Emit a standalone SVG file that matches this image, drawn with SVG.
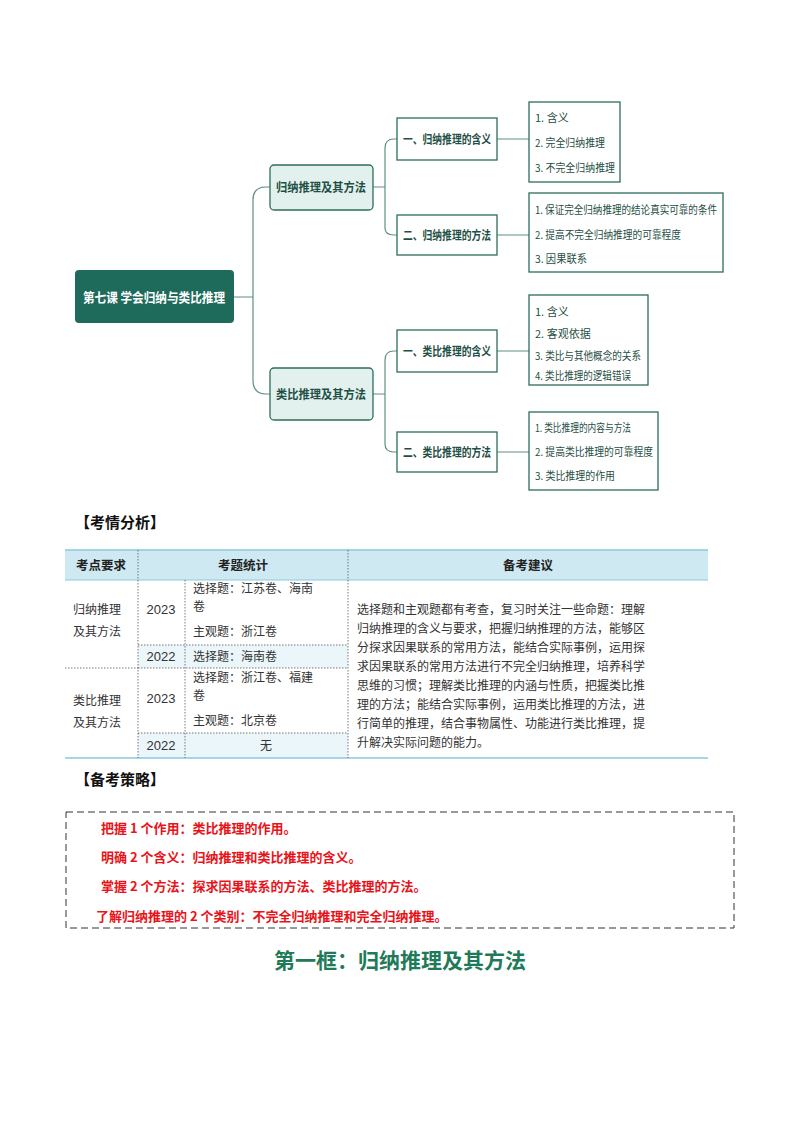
<svg xmlns="http://www.w3.org/2000/svg" width="800" height="1132" viewBox="0 0 800 1132">
<style>
text{font-family:"Noto Sans CJK SC","Liberation Sans",sans-serif;}
.b{fill:#fff;stroke:#2d6e5e;stroke-width:1.3}
.l1{fill:#e3f1ee;stroke:#2d6e5e;stroke-width:1.3}
.t{font-size:12px;fill:#1f4f45;font-weight:bold}
.s{font-size:11px;fill:#1f4f45}
.c{fill:none;stroke:#5f8f84;stroke-width:1.2}
.g{stroke:#555;stroke-width:0.8;stroke-dasharray:1.5 1.5}
.tx{font-family:"Noto Sans CJK SC",serif;font-size:12px;fill:#333}
.n{font-family:"Liberation Sans",sans-serif;font-size:13px;fill:#333}
.r{font-size:13px;fill:#e8141a;font-weight:bold}
</style>
<rect width="800" height="1132" fill="#fff"/>
<g id="connectors">
<path class="c" d="M234,297H253 M253,200V380 M253,200Q253,187 266,187H270 M253,380Q253,394 266,394H270"/>
<path class="c" d="M373,187H385 M385,148V228 M385,148Q385,139 394,139H397 M385,228Q385,235 394,235H397"/>
<path class="c" d="M373,394H385 M385,360V444 M385,360Q385,351 394,351H397 M385,444Q385,452 394,452H397"/>
<path class="c" d="M497,139H529 M497,235H529 M497,351H529 M497,452H529"/>
</g>
<g id="root"><rect x="75" y="270" width="159" height="53" rx="4" fill="#1e6b5c"/><text x="154" y="302" font-size="13" font-weight="bold" fill="#fff" text-anchor="middle" textLength="142" lengthAdjust="spacingAndGlyphs">第七课  学会归纳与类比推理</text></g>
<g id="n1"><rect class="l1" x="270" y="165" width="103" height="45" rx="4"/><text class="t" x="321" y="192" text-anchor="middle" textLength="90" lengthAdjust="spacingAndGlyphs">归纳推理及其方法</text></g>
<g id="n11"><rect class="b" x="397" y="118" width="100" height="42"/><text class="t" x="447" y="144" text-anchor="middle" textLength="88" lengthAdjust="spacingAndGlyphs">一、归纳推理的含义</text></g>
<g id="n12"><rect class="b" x="397" y="215" width="100" height="40"/><text class="t" x="447" y="240" text-anchor="middle" textLength="88" lengthAdjust="spacingAndGlyphs">二、归纳推理的方法</text></g>
<g id="n111"><rect class="b" x="529" y="102" width="91" height="80"/><text class="s" x="535" y="122">1. 含义</text><text class="s" x="535" y="147" textLength="70" lengthAdjust="spacingAndGlyphs">2. 完全归纳推理</text><text class="s" x="535" y="172" textLength="80" lengthAdjust="spacingAndGlyphs">3. 不完全归纳推理</text></g>
<g id="n121"><rect class="b" x="529" y="193" width="194" height="79"/><text class="s" x="535" y="214" textLength="182" lengthAdjust="spacingAndGlyphs">1. 保证完全归纳推理的结论真实可靠的条件</text><text class="s" x="535" y="239" textLength="146" lengthAdjust="spacingAndGlyphs">2. 提高不完全归纳推理的可靠程度</text><text class="s" x="535" y="263" textLength="52" lengthAdjust="spacingAndGlyphs">3. 因果联系</text></g>
<g id="n2"><rect class="l1" x="270" y="368" width="103" height="52" rx="4"/><text class="t" x="321" y="399" text-anchor="middle" textLength="90" lengthAdjust="spacingAndGlyphs">类比推理及其方法</text></g>
<g id="n21"><rect class="b" x="397" y="330" width="100" height="42"/><text class="t" x="447" y="356" text-anchor="middle" textLength="88" lengthAdjust="spacingAndGlyphs">一、类比推理的含义</text></g>
<g id="n22"><rect class="b" x="397" y="432" width="100" height="40"/><text class="t" x="447" y="457" text-anchor="middle" textLength="88" lengthAdjust="spacingAndGlyphs">二、类比推理的方法</text></g>
<g id="n211"><rect class="b" x="529" y="295" width="119" height="90"/><text class="s" x="535" y="316">1. 含义</text><text class="s" x="535" y="338">2. 客观依据</text><text class="s" x="535" y="360" textLength="106" lengthAdjust="spacingAndGlyphs">3. 类比与其他概念的关系</text><text class="s" x="535" y="382" dy="-2" textLength="96" lengthAdjust="spacingAndGlyphs">4. 类比推理的逻辑错误</text></g>
<g id="n221"><rect class="b" x="529" y="412" width="129" height="78"/><text class="s" x="535" y="432" textLength="96" lengthAdjust="spacingAndGlyphs">1. 类比推理的内容与方法</text><text class="s" x="535" y="456" textLength="118" lengthAdjust="spacingAndGlyphs">2. 提高类比推理的可靠程度</text><text class="s" x="535" y="480" textLength="80" lengthAdjust="spacingAndGlyphs">3. 类比推理的作用</text></g>
<text x="75" y="528" font-size="15" font-weight="bold" fill="#111">【考情分析】</text>
<g id="table">
<rect x="65" y="550" width="643" height="30" fill="#cfe9f2"/>
<rect x="138" y="645" width="210" height="23" fill="#eaf6fa"/>
<rect x="138" y="733" width="210" height="25" fill="#eaf6fa"/>
<line x1="65" y1="550" x2="708" y2="550" stroke="#8cc8dd" stroke-width="1.5"/>
<line x1="65" y1="758" x2="708" y2="758" stroke="#8cc8dd" stroke-width="1.5"/>
<line x1="65" y1="580" x2="708" y2="580" stroke="#8cc8dd" stroke-width="1"/>
<line class="g" x1="138" y1="550" x2="138" y2="758"/>
<line class="g" x1="185" y1="580" x2="185" y2="758"/>
<line class="g" x1="348" y1="550" x2="348" y2="758"/>
<line class="g" x1="138" y1="645" x2="348" y2="645"/>
<line class="g" x1="138" y1="668" x2="348" y2="668"/>
<line class="g" x1="65" y1="668" x2="138" y2="668"/>
<line class="g" x1="138" y1="733" x2="348" y2="733"/>
<g font-family="Noto Sans CJK SC,serif" font-weight="bold" font-size="12.5" fill="#222" text-anchor="middle"><text x="101" y="570">考点要求</text><text x="243" y="570">考题统计</text><text x="528" y="570">备考建议</text></g>
<text class="tx" x="73" y="614">归纳推理</text><text class="tx" x="73" y="636">及其方法</text>
<text class="tx" x="73" y="705">类比推理</text><text class="tx" x="73" y="727">及其方法</text>
<text class="n" x="161" y="614" text-anchor="middle">2023</text><text class="n" x="161" y="661" text-anchor="middle">2022</text>
<text class="n" x="161" y="703" text-anchor="middle">2023</text><text class="n" x="161" y="750" text-anchor="middle">2022</text>
<text class="tx" x="193" y="593">选择题：江苏卷、海南</text><text class="tx" x="193" y="611">卷</text><text class="tx" x="193" y="636">主观题：浙江卷</text>
<text class="tx" x="193" y="661">选择题：海南卷</text>
<text class="tx" x="193" y="682">选择题：浙江卷、福建</text><text class="tx" x="193" y="700">卷</text><text class="tx" x="193" y="725">主观题：北京卷</text>
<text class="tx" x="266" y="750" text-anchor="middle">无</text>
<g class="tx"><text x="357" y="614">选择题和主观题都有考查，复习时关注一些命题：理解</text><text x="357" y="633">归纳推理的含义与要求，把握归纳推理的方法，能够区</text><text x="357" y="652">分探求因果联系的常用方法，能结合实际事例，运用探</text><text x="357" y="671">求因果联系的常用方法进行不完全归纳推理，培养科学</text><text x="357" y="690">思维的习惯；理解类比推理的内涵与性质，把握类比推</text><text x="357" y="709">理的方法；能结合实际事例，运用类比推理的方法，进</text><text x="357" y="728">行简单的推理，结合事物属性、功能进行类比推理，提</text><text x="357" y="747">升解决实际问题的能力。</text></g>
</g>
<text x="75" y="785" font-size="15" font-weight="bold" fill="#111">【备考策略】</text>
<g id="strategy">
<rect x="66" y="812" width="668" height="116" fill="none" stroke="#333" stroke-width="1" stroke-dasharray="7 4"/>
<text class="r" x="101" y="833">把握 1 个作用：类比推理的作用。</text>
<text class="r" x="101" y="862">明确 2 个含义：归纳推理和类比推理的含义。</text>
<text class="r" x="101" y="891">掌握 2 个方法：探求因果联系的方法、类比推理的方法。</text>
<text class="r" x="96" y="921">了解归纳推理的 2 个类别：不完全归纳推理和完全归纳推理。</text>
</g>
<text x="400" y="968" font-size="21" font-weight="bold" fill="#1f7a5a" text-anchor="middle">第一框：归纳推理及其方法</text>
</svg>
